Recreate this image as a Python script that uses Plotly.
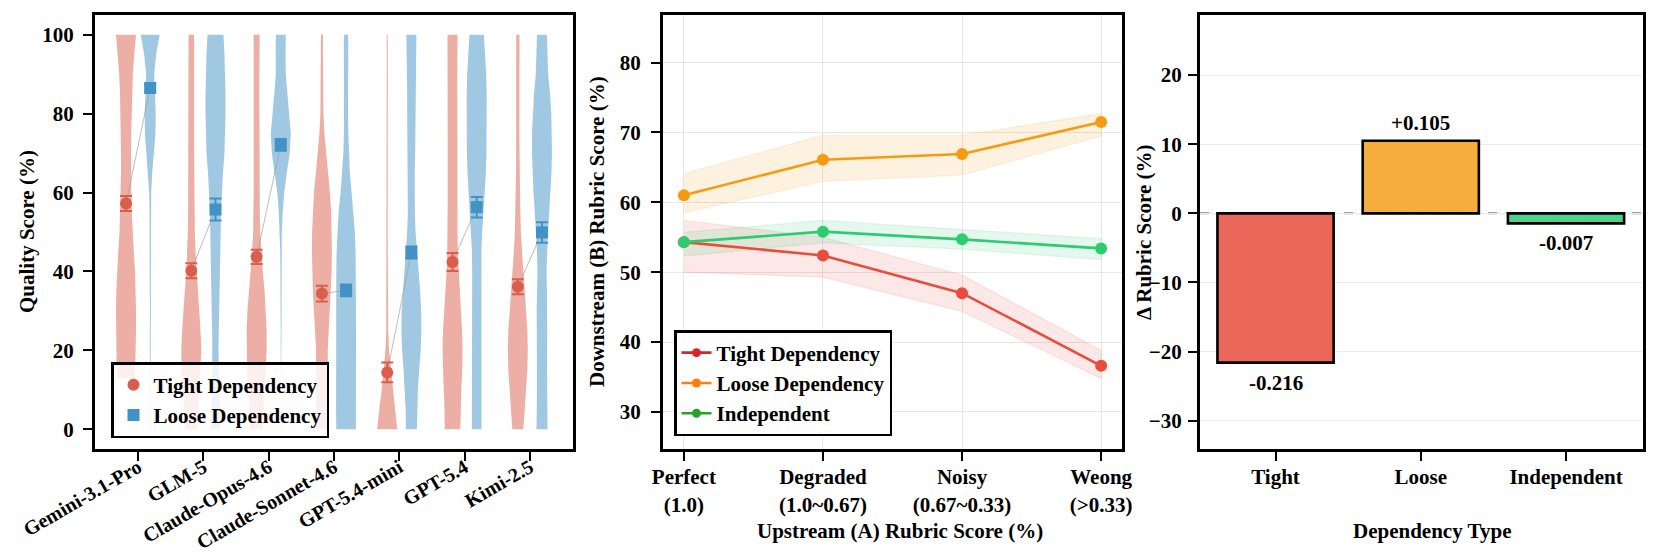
import plotly.graph_objects as go

W, H = 1654, 557

# ---------------- Data: left panel (violins) ----------------
MODELS = ["Gemini-3.1-Pro", "GLM-5", "Claude-Opus-4.6", "Claude-Sonnet-4.6",
          "GPT-5.4-mini", "GPT-5.4", "Kimi-2.5"]
Y_GRID = [0, 5, 10, 15, 20, 25, 30, 35, 40, 45, 50, 55, 60, 65, 70, 75, 80, 85, 90, 95, 100]

# relative violin widths (0..1) at Y_GRID levels
gem_t = [None, None, 0.9, 0.93, 0.98, 1.0, 1.0, 0.97, 0.9, 0.78, 0.65, 0.57, 0.53, 0.5, 0.5, 0.52, 0.55, 0.6, 0.68, 0.82, 1.0]
gem_l = [0.03, 0.03, 0.03, 0.03, 0.03, 0.03, 0.03, 0.03, 0.03, 0.03, 0.04, 0.06, 0.1, 0.2, 0.38, 0.53, 0.55, 0.48, 0.4, 0.6, 0.95]
glm_t = [0.6, 0.7, 0.85, 0.97, 1.0, 0.92, 0.8, 0.65, 0.5, 0.42, 0.35, 0.32, 0.3, 0.29, 0.28, 0.28, 0.27, 0.27, 0.27, 0.28, 0.28]
glm_l = [0.5, 0.45, 0.38, 0.32, 0.3, 0.33, 0.38, 0.42, 0.47, 0.5, 0.52, 0.55, 0.62, 0.75, 0.9, 0.98, 1.0, 1.0, 0.97, 0.9, 0.8]
opus_t = [0.6, 0.7, 0.85, 0.95, 1.0, 1.0, 0.92, 0.8, 0.62, 0.45, 0.35, 0.32, 0.3, 0.29, 0.28, 0.28, 0.27, 0.27, 0.28, 0.29, 0.3]
opus_l = [0.03, 0.03, 0.03, 0.03, 0.03, 0.03, 0.03, 0.03, 0.04, 0.06, 0.1, 0.2, 0.35, 0.6, 0.9, 1.0, 0.85, 0.65, 0.5, 0.48, 0.5]
son_t = [0.5, 0.55, 0.62, 0.6, 0.58, 0.68, 0.8, 0.9, 0.97, 1.0, 0.98, 0.92, 0.8, 0.6, 0.4, 0.25, 0.15, 0.12, 0.1, 0.1, 0.1]
son_l = [0.98, 1.0, 1.0, 1.0, 1.0, 1.0, 1.0, 0.99, 0.98, 0.95, 0.88, 0.75, 0.55, 0.38, 0.27, 0.22, 0.2, 0.2, 0.2, 0.21, 0.22]
mini_t = [1.0, 0.8, 0.55, 0.35, 0.18, 0.1, 0.07, 0.06, 0.05, 0.05, 0.05, 0.05, 0.05, 0.05, 0.05, 0.05, 0.05, 0.05, 0.05, 0.05, 0.05]
mini_l = [0.55, 0.57, 0.65, 0.78, 0.93, 1.0, 0.98, 0.88, 0.72, 0.55, 0.42, 0.35, 0.32, 0.33, 0.38, 0.4, 0.42, 0.42, 0.42, 0.45, 0.5]
g54_t = [0.78, 0.8, 0.88, 0.97, 1.0, 0.95, 0.85, 0.72, 0.6, 0.53, 0.5, 0.49, 0.48, 0.47, 0.47, 0.47, 0.47, 0.48, 0.48, 0.49, 0.5]
g54_l = [0.48, 0.48, 0.48, 0.47, 0.47, 0.46, 0.45, 0.45, 0.45, 0.47, 0.55, 0.68, 0.82, 0.92, 0.98, 1.0, 1.0, 1.0, 0.95, 0.85, 0.72]
kimi_t = [0.55, 0.65, 0.82, 0.95, 1.0, 0.95, 0.85, 0.7, 0.55, 0.4, 0.3, 0.25, 0.2, 0.18, 0.17, 0.16, 0.15, 0.15, 0.15, 0.16, 0.17]
kimi_l = [0.55, 0.52, 0.5, 0.5, 0.5, 0.52, 0.53, 0.5, 0.45, 0.5, 0.6, 0.72, 0.85, 0.95, 1.0, 1.0, 0.93, 0.8, 0.62, 0.55, 0.5]

TIGHT_W = [gem_t, glm_t, opus_t, son_t, mini_t, g54_t, kimi_t]
LOOSE_W = [gem_l, glm_l, opus_l, son_l, mini_l, g54_l, kimi_l]
TIGHT_MIN = [12.8, 0, 0, 0, 0, 0, 0]
LOOSE_MIN = [0, 0, 0, 0, 0, 0, 0]

TIGHT_MEAN = [57.2, 40.2, 43.7, 34.4, 14.4, 42.4, 36.1]
TIGHT_ERR = [1.9, 1.9, 1.8, 2.0, 2.5, 2.3, 1.9]
LOOSE_MEAN = [86.5, 55.7, 72.1, 35.2, 44.8, 56.3, 49.9]
LOOSE_ERR = [1.0, 2.8, 1.5, 1.5, 1.5, 2.6, 2.6]

# ---------------- Data: middle panel ----------------
STAGES = ["Perfect<br>(1.0)", "Degraded<br>(1.0~0.67)", "Noisy<br>(0.67~0.33)", "Weong<br>(>0.33)"]
tight_mean = [54.3, 52.4, 47.0, 36.6]
tight_lo = [50.0, 49.3, 44.4, 34.8]
tight_hi = [57.4, 55.0, 49.6, 38.8]
loose_mean = [61.0, 66.1, 66.9, 71.5]
loose_lo = [58.5, 63.0, 63.9, 69.5]
loose_hi = [64.1, 69.6, 69.6, 72.7]
indep_mean = [54.3, 55.8, 54.7, 53.4]
indep_lo = [52.3, 54.2, 53.3, 51.8]
indep_hi = [55.7, 57.4, 56.1, 54.8]

# ---------------- Data: right panel ----------------
DEP_TYPES = ["Tight", "Loose", "Independent"]
DELTA = [-21.6, 10.5, -1.45]
DELTA_LABELS = ["-0.216", "+0.105", "-0.007"]

# ---------------- Style ----------------
FONT = "Liberation Serif"
FS = 21
RED_M = "#DA5E4C"
BLUE_M = "#4292C6"
RED_V = "rgba(218,94,76,0.5)"
BLUE_V = "rgba(66,146,198,0.5)"
LINE_COLORS = ["#E74C3C", "#F39C12", "#2ECC71"]
BAND_COLORS = ["rgba(231,76,60,0.13)", "rgba(243,156,18,0.13)", "rgba(46,204,113,0.13)"]
LEG_COLORS = ["#D62728", "#FF7F0E", "#2CA02C"]
BAR_COLORS = ["#EA6759", "#F5AD3B", "#4CD389"]
OFF = 0.185
HALF = 0.153


def px_x(p):
    return p / W


def px_y(p):
    return 1 - p / H


fig = go.Figure()


def violin_path(center, widths, ymin):
    ys, ws = [], []
    for y, w in zip(Y_GRID, widths):
        if w is None:
            continue
        ys.append(y)
        ws.append(w)
    ys[0] = max(ys[0], ymin)
    xr = [center + w * HALF for w in ws]
    xl = [center - w * HALF for w in ws]
    return xr + xl[::-1] + [xr[0]], ys + ys[::-1] + [ys[0]]


for i in range(len(MODELS)):
    for widths, ymin, off, col in ((TIGHT_W[i], TIGHT_MIN[i], -OFF, RED_V),
                                   (LOOSE_W[i], LOOSE_MIN[i], OFF, BLUE_V)):
        vx, vy = violin_path(i + off, widths, ymin)
        fig.add_trace(go.Scatter(x=vx, y=vy, mode="lines", fill="toself",
                                 fillcolor=col, line=dict(width=0),
                                 hoverinfo="skip", showlegend=False,
                                 xaxis="x", yaxis="y"))

# connecting lines
cx, cy = [], []
for i in range(len(MODELS)):
    cx += [i - OFF, i + OFF, None]
    cy += [TIGHT_MEAN[i], LOOSE_MEAN[i], None]
fig.add_trace(go.Scatter(x=cx, y=cy, mode="lines",
                         line=dict(color="rgba(160,160,160,0.7)", width=1),
                         showlegend=False, hoverinfo="skip", xaxis="x", yaxis="y"))

fig.add_trace(go.Scatter(
    x=[i - OFF for i in range(len(MODELS))], y=TIGHT_MEAN, mode="markers",
    name="Tight Dependency",
    marker=dict(symbol="circle", size=12, color=RED_M),
    error_y=dict(type="data", array=TIGHT_ERR, color=RED_M, thickness=2, width=6),
    legend="legend", xaxis="x", yaxis="y"))
fig.add_trace(go.Scatter(
    x=[i + OFF for i in range(len(MODELS))], y=LOOSE_MEAN, mode="markers",
    name="Loose Dependency",
    marker=dict(symbol="square", size=12, color=BLUE_M),
    error_y=dict(type="data", array=LOOSE_ERR, color=BLUE_M, thickness=2, width=6),
    legend="legend", xaxis="x", yaxis="y"))

# middle panel
xs = list(range(len(STAGES)))
series = [(tight_mean, tight_lo, tight_hi, "Tight Dependency"),
          (loose_mean, loose_lo, loose_hi, "Loose Dependency"),
          (indep_mean, indep_lo, indep_hi, "Independent")]
for k, (m, lo, hi, nm) in enumerate(series):
    fig.add_trace(go.Scatter(x=xs + xs[::-1], y=hi + lo[::-1], fill="toself",
                             fillcolor=BAND_COLORS[k], mode="lines",
                             line=dict(color=BAND_COLORS[k], width=1.2),
                             hoverinfo="skip", showlegend=False,
                             xaxis="x2", yaxis="y2"))
for k, (m, lo, hi, nm) in enumerate(series):
    fig.add_trace(go.Scatter(x=xs, y=m, mode="lines+markers",
                             line=dict(color=LINE_COLORS[k], width=2.6),
                             marker=dict(size=12, color=LINE_COLORS[k]),
                             showlegend=False, xaxis="x2", yaxis="y2"))
for k, (m, lo, hi, nm) in enumerate(series):
    fig.add_trace(go.Scatter(x=[None], y=[None], mode="lines+markers", name=nm,
                             line=dict(color=LEG_COLORS[k], width=2.6),
                             marker=dict(size=9, color=LEG_COLORS[k]),
                             legend="legend2", xaxis="x2", yaxis="y2"))

# right panel
fig.add_trace(go.Bar(x=list(range(len(DEP_TYPES))), y=DELTA, width=0.8,
                     marker=dict(color=BAR_COLORS, line=dict(color="black", width=2.6)),
                     showlegend=False, xaxis="x3", yaxis="y3"))

TF = dict(size=FS, family=FONT, color="black", weight=700)
annotations = []
for i, (v, t) in enumerate(zip(DELTA, DELTA_LABELS)):
    annotations.append(dict(x=i, y=v, xref="x3", yref="y3", text=t, showarrow=False,
                            xanchor="center",
                            yanchor="bottom" if v > 0 else "top",
                            yshift=4 if v > 0 else -6, font=TF))


def title_ann(xp, yp, text, angle=0):
    return dict(x=px_x(xp), y=px_y(yp), xref="paper", yref="paper", text=text,
                textangle=angle, showarrow=False, xanchor="center", yanchor="middle",
                font=TF)


annotations += [
    title_ann(27, 232, "Quality Score (%)", -90),
    title_ann(597, 232, "Downstream (B) Rubric Score (%)", -90),
    title_ann(1144, 232, "Δ Rubric Score (%)", -90),
    title_ann(900, 531, "Upstream (A) Rubric Score (%)"),
    title_ann(1432, 531, "Dependency Type"),
]

common = dict(showline=True, linecolor="black", linewidth=3, mirror=True,
              ticks="outside", ticklen=9, tickwidth=2, tickcolor="black",
              zeroline=False, automargin=False)

ydom = [px_y(449), px_y(15)]

fig.update_layout(
    template="none",
    width=W, height=H, margin=dict(l=0, r=0, t=0, b=0, pad=0),
    paper_bgcolor="white", plot_bgcolor="white",
    font=dict(family=FONT, color="black", size=FS, weight=700),
    xaxis=dict(domain=[px_x(95), px_x(573)], range=[-0.66, 6.66],
               tickvals=list(range(len(MODELS))), ticktext=MODELS, tickangle=-30,
               tickfont=dict(size=20, family=FONT, color="black", weight=700),
               ticklabelstandoff=-13, showgrid=False, anchor="y", **common),
    yaxis=dict(domain=ydom, range=[-5, 105], tickvals=[0, 20, 40, 60, 80, 100],
               tickfont=TF, ticklabelstandoff=5, showgrid=False, anchor="x", **common),
    xaxis2=dict(domain=[px_x(663), px_x(1122)], range=[-0.15, 3.15],
                tickvals=xs, ticktext=STAGES, ticklabelstandoff=-2, tickfont=TF,
                showgrid=True, gridcolor="#E6E6E6", gridwidth=1, anchor="y2", **common),
    yaxis2=dict(domain=ydom, range=[24.7, 86.8], tickvals=[30, 40, 50, 60, 70, 80],
                tickfont=TF, ticklabelstandoff=6, showgrid=True, gridcolor="#E6E6E6",
                gridwidth=1, anchor="x2", **common),
    xaxis3=dict(domain=[px_x(1200), px_x(1643)], range=[-0.52, 2.53],
                tickvals=list(range(len(DEP_TYPES))), ticktext=DEP_TYPES, tickfont=TF,
                ticklabelstandoff=-2, showgrid=False, anchor="y3", **common),
    yaxis3=dict(domain=ydom, range=[-34.1, 28.7], tickvals=[-30, -20, -10, 0, 10, 20],
                tickfont=TF, ticklabelstandoff=2, showgrid=True, gridcolor="#EBEBEB",
                gridwidth=1, anchor="x3", **common),
    legend=dict(x=px_x(111), y=px_y(438), xanchor="left", yanchor="bottom",
                bgcolor="rgba(255,255,255,0.82)", bordercolor="black", borderwidth=2.5,
                font=TF),
    legend2=dict(x=px_x(674), y=px_y(436), xanchor="left", yanchor="bottom",
                 bgcolor="rgba(255,255,255,0.85)", bordercolor="black", borderwidth=2.5,
                 font=TF),
    annotations=annotations,
    shapes=[dict(type="line", xref="x3 domain", yref="y3", x0=0, x1=1, y0=0, y1=0,
                 line=dict(color="#808080", width=2, dash="dash"), layer="below")],
    bargap=0.2,
)

fig.write_html("out.html", config={"displayModeBar": False},
               post_script="document.body.style.margin='0px';document.body.style.overflow='hidden';")
